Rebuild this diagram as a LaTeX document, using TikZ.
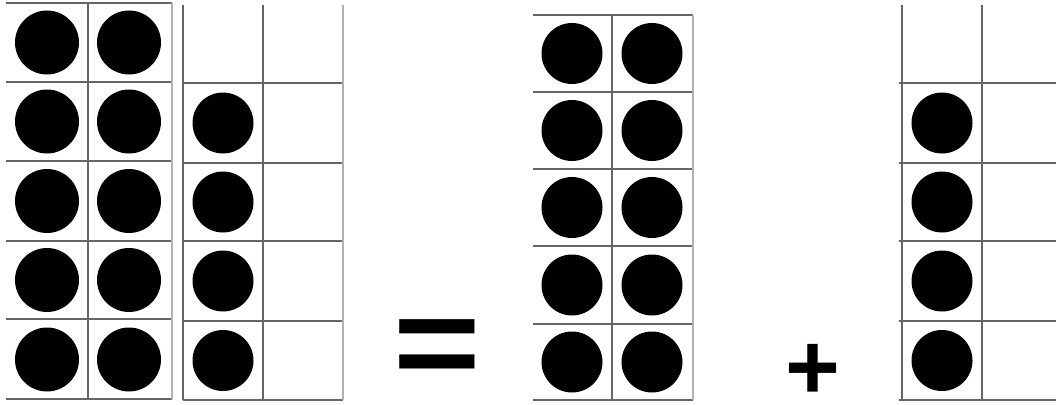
\documentclass[tikz,border=0pt]{standalone}
\usepackage{fontspec}
\setmainfont{Liberation Sans}
\begin{document}
\begin{tikzpicture}[x=1pt,y=-1pt,
  gridline/.style={draw=black!60, line width=1.4pt},
  edgeline/.style={draw=black!30, line width=1.4pt},
  dotfill/.style={fill=black}]
\useasboundingbox[fill=white] (0,0) rectangle (1056,404);
% grid A
\foreach \y in {3,82,161,241,319,399} \draw[gridline] (6,\y) -- (172,\y);
\draw[gridline] (88,3) -- (88,399);
\draw[edgeline] (172,3) -- (172,399);
\foreach \yc in {42.5,121.5,201,280,359.5} {
  \fill[dotfill] (47,\yc) circle (32pt);
  \fill[dotfill] (129,\yc) circle (32pt);
}
% grid B
\foreach \y in {83,163,241,321,400} \draw[gridline] (183,\y) -- (343,\y);
\draw[gridline] (183,5) -- (183,400);
\draw[gridline] (263,5) -- (263,400);
\draw[edgeline] (343,5) -- (343,400);
\foreach \yc in {123,202,281,360.5} \fill[dotfill] (223,\yc) circle (30.5pt);
% grid C
\foreach \y in {15,92,169,246,324,400} \draw[gridline] (533,\y) -- (693,\y);
\draw[gridline] (612,15) -- (612,400);
\draw[edgeline] (693,15) -- (693,400);
\foreach \yc in {53.5,130.5,207.5,285,362} {
  \fill[dotfill] (572,\yc) circle (30.5pt);
  \fill[dotfill] (652,\yc) circle (30.5pt);
}
% grid D
\foreach \y in {83,163,241,321,400} \draw[gridline] (899,\y) -- (1056,\y);
\draw[gridline] (902,5) -- (902,400);
\draw[gridline] (982,5) -- (982,400);
\foreach \yc in {123,202,281,360.5} \fill[dotfill] (942,\yc) circle (30.5pt);
% symbols
\node[font=\bfseries\fontsize{150}{150}\selectfont, inner sep=3pt] (eq) at (437,354) {\scalebox{1}[0.87]{=}};
\node[font=\bfseries\fontsize{94}{94}\selectfont, inner sep=3pt] (plus) at (813,372) {+};
\end{tikzpicture}
\end{document}
